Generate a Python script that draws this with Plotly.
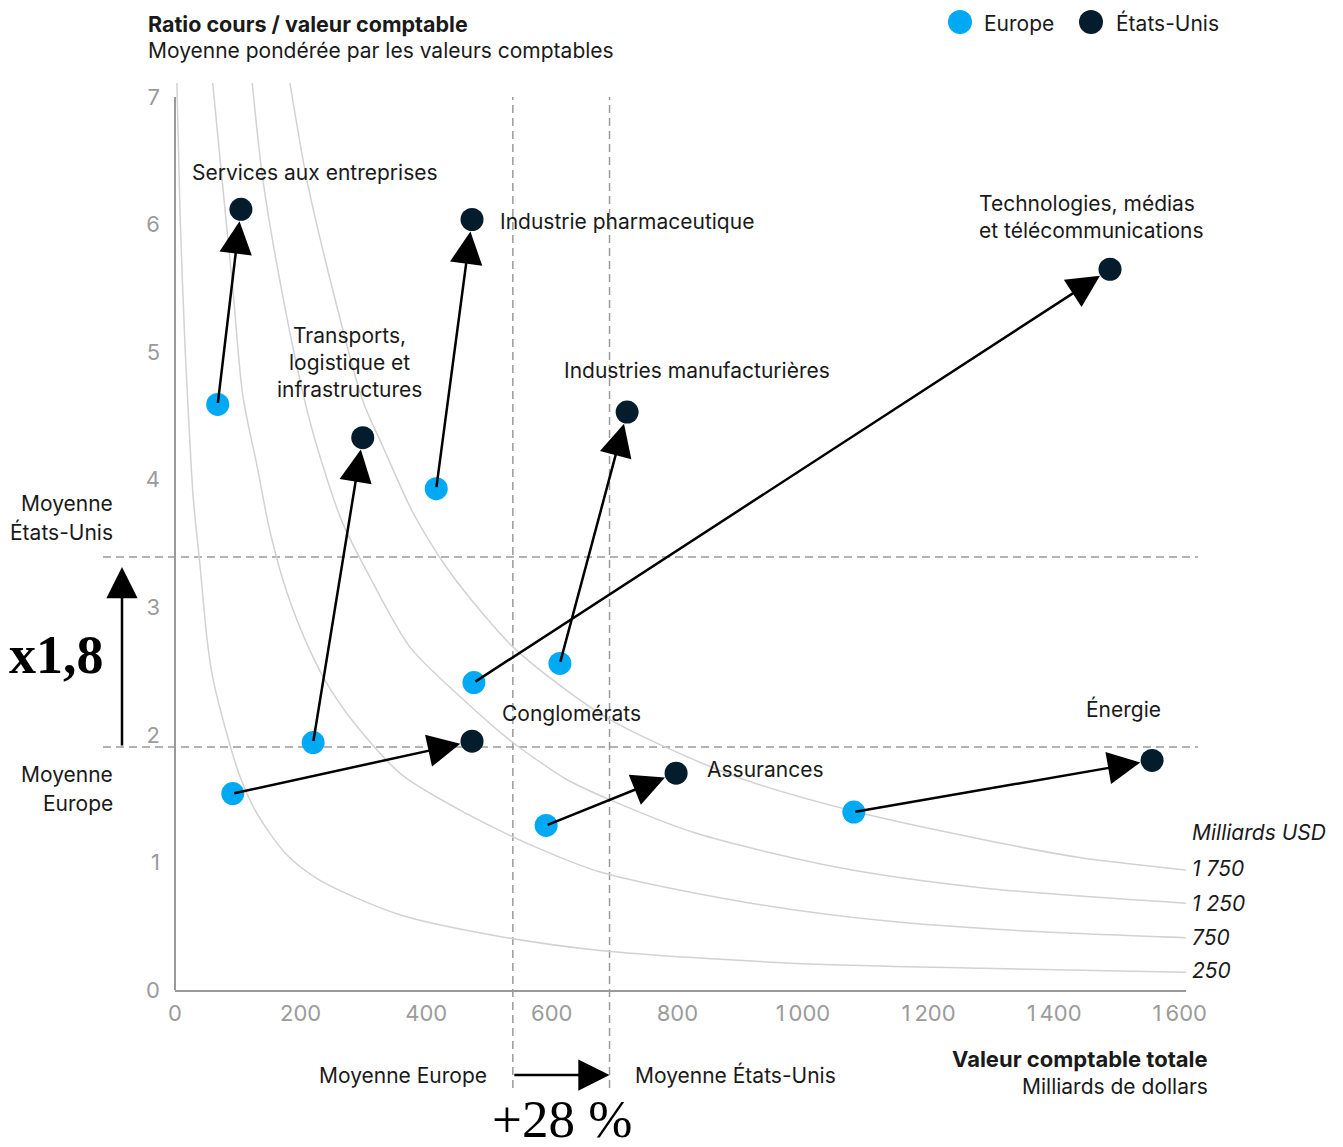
import plotly.graph_objects as go

# ---------------- data ----------------
sectors = [
    "Services aux entreprises",
    "Transports, logistique et infrastructures",
    "Industrie pharmaceutique",
    "Industries manufacturières",
    "Technologies, médias et télécommunications",
    "Conglomérats",
    "Assurances",
    "Énergie",
]
europe_book = [68, 220, 416, 613, 476, 92, 591, 1081]
europe_pb = [4.59, 1.94, 3.93, 2.56, 2.41, 1.54, 1.29, 1.395]
us_book = [105, 299, 473, 720, 1489, 473, 798, 1556]
us_pb = [6.12, 4.33, 6.04, 4.53, 5.65, 1.95, 1.70, 1.80]

avg_book_europe = 538
avg_book_us = 692
avg_pb_europe = 1.905
avg_pb_us = 3.394

iso_labels = ["1 750", "1 250", "750", "250"]
iso_1750_x = [183, 210, 247, 299, 331, 374, 400, 430, 465, 538, 629, 693, 783, 906, 1086, 1286, 1438, 1610]
iso_1750_y = [7.11, 6.35, 5.57, 4.62, 4.26, 3.79, 3.56, 3.33, 3.10, 2.69, 2.33, 2.12, 1.90, 1.65, 1.395, 1.18, 1.04, 0.94]
iso_1250_x = [123, 140, 172, 210, 236, 267, 310, 374, 465, 538, 624, 693, 829, 1057, 1286, 1610]
iso_1250_y = [7.11, 6.35, 5.43, 4.55, 4.10, 3.66, 3.24, 2.69, 2.25, 1.94, 1.65, 1.49, 1.23, 0.96, 0.80, 0.68]
iso_750_x = [60, 76, 92, 108, 131, 151, 178, 215, 247, 299, 363, 465, 570, 677, 906, 1134, 1363, 1610]
iso_750_y = [7.11, 6.30, 5.50, 4.66, 4.10, 3.60, 3.12, 2.66, 2.36, 2.01, 1.68, 1.38, 1.13, 0.925, 0.69, 0.54, 0.46, 0.41]
iso_250_x = [3, 8, 16, 21, 29, 40, 51, 60, 83, 103, 131, 178, 231, 358, 517, 677, 981, 1286, 1610]
iso_250_y = [7.11, 6.09, 5.04, 4.55, 3.86, 3.32, 2.75, 2.45, 2.00, 1.68, 1.38, 1.06, 0.86, 0.59, 0.42, 0.31, 0.21, 0.17, 0.14]

x_tickvals = [0, 200, 400, 600, 800, 1000, 1200, 1400, 1600]
x_ticktext = ["0", "200", "400", "600", "800", "1\u2009000", "1\u2009200", "1\u2009400", "1\u2009600"]
y_tickvals = [0, 1, 2, 3, 4, 5, 6, 7]

# ---------------- style ----------------
EU_COLOR = "#00A9F4"
US_COLOR = "#051C2C"
CURVE_COLOR = "#d2d2d2"
DASH_COLOR = "#9a9a9a"
TEXT = "#1a1a1a"
TICK = "#9b9b9b"
FONT = "Inter, 'Noto Sans', sans-serif"
SERIF = "'Liberation Serif', 'DejaVu Serif', serif"

W, H = 1343, 1147
L, R, T, B = 175, 157, 83, 157
PW, PH = W - L - R, H - T - B


def px(x):
    return (x - L) / PW


def py(y):
    return (H - B - y) / PH


fig = go.Figure()

iso_x = [iso_1750_x, iso_1250_x, iso_750_x, iso_250_x]
iso_y = [iso_1750_y, iso_1250_y, iso_750_y, iso_250_y]
for xs, ys, name in zip(iso_x, iso_y, iso_labels):
    fig.add_trace(go.Scatter(
        x=xs, y=ys, mode="lines", name=name, showlegend=False, hoverinfo="skip",
        line=dict(color=CURVE_COLOR, width=1.5, shape="spline", smoothing=0.8),
    ))

fig.add_trace(go.Scatter(
    x=europe_book, y=europe_pb, mode="markers", name="Europe", text=sectors,
    showlegend=False, marker=dict(size=23, color=EU_COLOR, line=dict(width=0)),
))
fig.add_trace(go.Scatter(
    x=us_book, y=us_pb, mode="markers", name="États-Unis", text=sectors,
    showlegend=False, marker=dict(size=23, color=US_COLOR, line=dict(width=0)),
))

shapes = []
# y axis line (0..7)
shapes.append(dict(type="line", xref="paper", yref="y", x0=0, x1=0, y0=0, y1=7,
                   line=dict(color="#999999", width=2), layer="above"))
# average lines
for v in [avg_pb_us, avg_pb_europe]:
    shapes.append(dict(type="line", xref="paper", yref="y", x0=px(103), x1=px(1198), y0=v, y1=v,
                       line=dict(color=DASH_COLOR, width=1.5, dash="8px,5px"), layer="below"))
for v in [avg_book_europe, avg_book_us]:
    shapes.append(dict(type="line", xref="x", yref="paper", x0=v, x1=v, y0=py(1088), y1=py(97),
                       line=dict(color=DASH_COLOR, width=1.5, dash="8px,5px"), layer="below"))
# legend dots
for cx, col in [(960, EU_COLOR), (1091, US_COLOR)]:
    shapes.append(dict(type="circle", xref="paper", yref="paper", xsizemode="pixel", ysizemode="pixel",
                       xanchor=px(cx), yanchor=py(22), x0=-12, x1=12, y0=-12, y1=12,
                       fillcolor=col, line=dict(width=0)))

ann = []
# arrows Europe -> US
for i in range(len(sectors)):
    ann.append(dict(x=us_book[i], y=us_pb[i], xref="x", yref="y",
                    ax=europe_book[i], ay=europe_pb[i], axref="x", ayref="y",
                    text="", showarrow=True, arrowhead=2, arrowsize=2.6, arrowwidth=2.5,
                    arrowcolor="#000000", standoff=12, startstandoff=0))

# bottom arrow (book value averages)
ann.append(dict(x=avg_book_us, y=py(1075), xref="x", yref="paper",
                ax=avg_book_europe, ay=0, axref="x", ayref="pixel",
                text="", showarrow=True, arrowhead=2, arrowsize=2.5, arrowwidth=2.5,
                arrowcolor="#000000", standoff=0))
# left arrow (ratio averages)
ann.append(dict(x=px(122), y=3.316, xref="paper", yref="y",
                ax=0, ay=avg_pb_europe, axref="pixel", ayref="y",
                text="", showarrow=True, arrowhead=2, arrowsize=2.5, arrowwidth=2.5,
                arrowcolor="#000000", standoff=0))


def txt(x, y, s, size=21, anchor="left", color=TEXT, family=FONT):
    ann.append(dict(xref="paper", yref="paper", x=px(x), y=py(y), text=s, showarrow=False,
                    xanchor=anchor, yanchor="middle", borderpad=0,
                    font=dict(size=size, color=color, family=family)))


# titles
txt(147, 24, "<b>Ratio cours / valeur comptable</b>", size=21.5)
txt(147, 51, "Moyenne pondérée par les valeurs comptables", size=21)
txt(1209, 1059, "<b>Valeur comptable totale</b>", size=22, anchor="right")
txt(1209, 1086, "Milliards de dollars", size=21, anchor="right")

# legend text
txt(983, 23, "Europe", size=21)
txt(1115, 23, "États-Unis", size=21)

# sector labels
txt(315, 172, "Services aux entreprises", anchor="center")
txt(499, 221, "Industrie pharmaceutique")
txt(978, 203, "Technologies, médias")
txt(978, 230, "et télécommunications")
txt(349, 335, "Transports,", anchor="center")
txt(349, 362, "logistique et", anchor="center")
txt(349, 389, "infrastructures", anchor="center")
txt(563, 370, "Industries manufacturières")
txt(501, 713, "Conglomérats")
txt(706, 769, "Assurances")
txt(1085, 709, "Énergie")

# iso curve labels
txt(1191, 832, "<i>Milliards USD</i>", size=21)
for lab, yy in zip(iso_labels, [868, 903, 937, 970]):
    txt(1191, yy, "<i>" + lab + "</i>", size=21)

# averages
txt(114, 503, "Moyenne", anchor="right")
txt(114, 532, "États-Unis", anchor="right")
txt(114, 774, "Moyenne", anchor="right")
txt(114, 803, "Europe", anchor="right")
txt(488, 1075, "Moyenne Europe", anchor="right")
txt(634, 1075, "Moyenne États-Unis")
txt(56, 655, "<b>x1,8</b>", size=54, anchor="center", color="#000000", family=SERIF)
txt(562, 1119, "+28 %", size=53, anchor="center", color="#000000", family=SERIF)

fig.update_layout(
    width=W, height=H,
    margin=dict(l=L, r=R, t=T, b=B, pad=0),
    paper_bgcolor="white", plot_bgcolor="rgba(0,0,0,0)",
    font=dict(family=FONT, color=TEXT),
    showlegend=False,
    shapes=shapes, annotations=ann,
    xaxis=dict(range=[0, 1610], tickvals=x_tickvals, ticktext=x_ticktext,
               showgrid=False, zeroline=False, showline=True, linecolor="#999999", linewidth=2,
               ticks="", ticklabelstandoff=3, tickfont=dict(size=22, color=TICK, family=FONT),
               fixedrange=True),
    yaxis=dict(range=[0, 7.11], tickvals=y_tickvals,
               showgrid=False, zeroline=False, showline=False,
               ticks="", ticklabelstandoff=14, tickfont=dict(size=22, color=TICK, family=FONT),
               fixedrange=True),
)

fig.write_html("out.html")
